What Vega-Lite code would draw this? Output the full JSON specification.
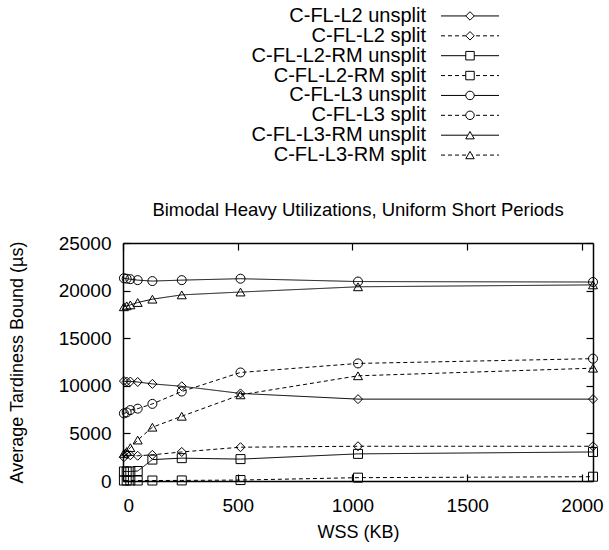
{
  "$schema": "https://vega.github.io/schema/vega-lite/v6.json",
  "padding": {"left": 8, "top": 5, "right": 5, "bottom": 5},
  "config": {
    "font": "Liberation Sans",
    "view": {"stroke": null},
    "concat": {"spacing": 34},
    "axis": {"labelColor": "black", "titleColor": "black", "tickColor": "black", "domainColor": "black", "grid": false, "labelFontSize": 19, "titleFontSize": 18, "titleFontWeight": "normal", "domainWidth": 1.5, "tickWidth": 1.2, "format": "d"}
  },
  "data": {"values": [
    {"series": "C-FL-L2 unsplit", "wss": 4, "bound": 10500},
    {"series": "C-FL-L2 unsplit", "wss": 16, "bound": 10450},
    {"series": "C-FL-L2 unsplit", "wss": 32, "bound": 10450},
    {"series": "C-FL-L2 unsplit", "wss": 64, "bound": 10400},
    {"series": "C-FL-L2 unsplit", "wss": 128, "bound": 10200},
    {"series": "C-FL-L2 unsplit", "wss": 256, "bound": 9950},
    {"series": "C-FL-L2 unsplit", "wss": 512, "bound": 9200},
    {"series": "C-FL-L2 unsplit", "wss": 1024, "bound": 8600},
    {"series": "C-FL-L2 unsplit", "wss": 2048, "bound": 8600},
    {"series": "C-FL-L2 split", "wss": 4, "bound": 2500},
    {"series": "C-FL-L2 split", "wss": 16, "bound": 2800},
    {"series": "C-FL-L2 split", "wss": 32, "bound": 2700},
    {"series": "C-FL-L2 split", "wss": 64, "bound": 2650},
    {"series": "C-FL-L2 split", "wss": 128, "bound": 2750},
    {"series": "C-FL-L2 split", "wss": 256, "bound": 3050},
    {"series": "C-FL-L2 split", "wss": 512, "bound": 3550},
    {"series": "C-FL-L2 split", "wss": 1024, "bound": 3650},
    {"series": "C-FL-L2 split", "wss": 2048, "bound": 3650},
    {"series": "C-FL-L2-RM unsplit", "wss": 4, "bound": 1000},
    {"series": "C-FL-L2-RM unsplit", "wss": 16, "bound": 1000},
    {"series": "C-FL-L2-RM unsplit", "wss": 32, "bound": 1000},
    {"series": "C-FL-L2-RM unsplit", "wss": 64, "bound": 1050},
    {"series": "C-FL-L2-RM unsplit", "wss": 128, "bound": 2250},
    {"series": "C-FL-L2-RM unsplit", "wss": 256, "bound": 2400},
    {"series": "C-FL-L2-RM unsplit", "wss": 512, "bound": 2300},
    {"series": "C-FL-L2-RM unsplit", "wss": 1024, "bound": 2850},
    {"series": "C-FL-L2-RM unsplit", "wss": 2048, "bound": 3050},
    {"series": "C-FL-L2-RM split", "wss": 4, "bound": 50},
    {"series": "C-FL-L2-RM split", "wss": 16, "bound": 50},
    {"series": "C-FL-L2-RM split", "wss": 32, "bound": 50},
    {"series": "C-FL-L2-RM split", "wss": 64, "bound": 50},
    {"series": "C-FL-L2-RM split", "wss": 128, "bound": 50},
    {"series": "C-FL-L2-RM split", "wss": 256, "bound": 60},
    {"series": "C-FL-L2-RM split", "wss": 512, "bound": 100},
    {"series": "C-FL-L2-RM split", "wss": 1024, "bound": 350},
    {"series": "C-FL-L2-RM split", "wss": 2048, "bound": 450},
    {"series": "C-FL-L3 unsplit", "wss": 4, "bound": 21300},
    {"series": "C-FL-L3 unsplit", "wss": 16, "bound": 21250},
    {"series": "C-FL-L3 unsplit", "wss": 32, "bound": 21200},
    {"series": "C-FL-L3 unsplit", "wss": 64, "bound": 21100},
    {"series": "C-FL-L3 unsplit", "wss": 128, "bound": 21000},
    {"series": "C-FL-L3 unsplit", "wss": 256, "bound": 21100},
    {"series": "C-FL-L3 unsplit", "wss": 512, "bound": 21250},
    {"series": "C-FL-L3 unsplit", "wss": 1024, "bound": 20950},
    {"series": "C-FL-L3 unsplit", "wss": 2048, "bound": 20900},
    {"series": "C-FL-L3 split", "wss": 4, "bound": 7100},
    {"series": "C-FL-L3 split", "wss": 16, "bound": 7200},
    {"series": "C-FL-L3 split", "wss": 32, "bound": 7450},
    {"series": "C-FL-L3 split", "wss": 64, "bound": 7600},
    {"series": "C-FL-L3 split", "wss": 128, "bound": 8100},
    {"series": "C-FL-L3 split", "wss": 256, "bound": 9400},
    {"series": "C-FL-L3 split", "wss": 512, "bound": 11400},
    {"series": "C-FL-L3 split", "wss": 1024, "bound": 12350},
    {"series": "C-FL-L3 split", "wss": 2048, "bound": 12850},
    {"series": "C-FL-L3-RM unsplit", "wss": 4, "bound": 18300},
    {"series": "C-FL-L3-RM unsplit", "wss": 16, "bound": 18400},
    {"series": "C-FL-L3-RM unsplit", "wss": 32, "bound": 18500},
    {"series": "C-FL-L3-RM unsplit", "wss": 64, "bound": 18750},
    {"series": "C-FL-L3-RM unsplit", "wss": 128, "bound": 19100},
    {"series": "C-FL-L3-RM unsplit", "wss": 256, "bound": 19550},
    {"series": "C-FL-L3-RM unsplit", "wss": 512, "bound": 19850},
    {"series": "C-FL-L3-RM unsplit", "wss": 1024, "bound": 20400},
    {"series": "C-FL-L3-RM unsplit", "wss": 2048, "bound": 20600},
    {"series": "C-FL-L3-RM split", "wss": 4, "bound": 2900},
    {"series": "C-FL-L3-RM split", "wss": 16, "bound": 3100},
    {"series": "C-FL-L3-RM split", "wss": 32, "bound": 3500},
    {"series": "C-FL-L3-RM split", "wss": 64, "bound": 4300},
    {"series": "C-FL-L3-RM split", "wss": 128, "bound": 5650},
    {"series": "C-FL-L3-RM split", "wss": 256, "bound": 6800},
    {"series": "C-FL-L3-RM split", "wss": 512, "bound": 9050},
    {"series": "C-FL-L3-RM split", "wss": 1024, "bound": 11050},
    {"series": "C-FL-L3-RM split", "wss": 2048, "bound": 11850}
  ]},
  "vconcat": [
    {
      "width": 470,
      "height": 159,
      "transform": [{"filter": "datum.wss == 2048"}],
      "encoding": {
        "y": {"field": "series", "type": "nominal", "axis": null,
          "sort": ["C-FL-L2 unsplit", "C-FL-L2 split", "C-FL-L2-RM unsplit", "C-FL-L2-RM split", "C-FL-L3 unsplit", "C-FL-L3 split", "C-FL-L3-RM unsplit", "C-FL-L3-RM split"],
          "scale": {"type": "point", "padding": 0.5}}
      },
      "layer": [
        {
          "mark": {"type": "rule", "color": "black", "strokeWidth": 1},
          "encoding": {
            "x": {"datum": 0.6766, "type": "quantitative", "scale": {"domain": [0, 1], "nice": false, "zero": false}, "axis": null},
            "x2": {"datum": 0.8},
            "strokeDash": {"field": "series", "type": "nominal", "legend": null,
              "scale": {"domain": ["C-FL-L2 unsplit", "C-FL-L2 split", "C-FL-L2-RM unsplit", "C-FL-L2-RM split", "C-FL-L3 unsplit", "C-FL-L3 split", "C-FL-L3-RM unsplit", "C-FL-L3-RM split"],
                "range": [[1, 0], [4, 3], [1, 0], [4, 3], [1, 0], [4, 3], [1, 0], [4, 3]]}}
          }
        },
        {
          "mark": {"type": "point", "filled": false, "color": "black", "fill": "white", "fillOpacity": 1, "strokeWidth": 1, "size": 72, "opacity": 1},
          "encoding": {
            "x": {"datum": 0.7383, "type": "quantitative"},
            "shape": {"field": "series", "type": "nominal", "legend": null,
              "scale": {"domain": ["C-FL-L2 unsplit", "C-FL-L2 split", "C-FL-L2-RM unsplit", "C-FL-L2-RM split", "C-FL-L3 unsplit", "C-FL-L3 split", "C-FL-L3-RM unsplit", "C-FL-L3-RM split"],
                "range": ["diamond", "diamond", "square", "square", "circle", "circle", "triangle-up", "triangle-up"]}}
          }
        },
        {
          "mark": {"type": "text", "align": "right", "baseline": "middle", "fontSize": 20, "color": "black"},
          "encoding": {
            "x": {"datum": 0.6447, "type": "quantitative"},
            "text": {"field": "series"}
          }
        }
      ]
    },
    {
      "width": 470,
      "height": 238,
      "title": {"text": "Bimodal Heavy Utilizations, Uniform Short Periods", "fontSize": 18.5, "fontWeight": "normal", "color": "black", "offset": 15},
      "layer": [
        {
          "mark": {"type": "line", "color": "black", "strokeWidth": 1},
          "encoding": {
            "x": {"field": "wss", "type": "quantitative", "scale": {"domain": [0, 2048], "nice": false},
              "axis": {"title": "WSS (KB)", "values": [0, 500, 1000, 1500, 2000], "tickSize": -7, "labelPadding": 22, "titlePadding": 8}},
            "y": {"field": "bound", "type": "quantitative", "scale": {"domain": [0, 25000], "nice": false},
              "axis": {"title": "Average Tardiness Bound (µs)", "values": [0, 5000, 10000, 15000, 20000, 25000], "tickSize": -7, "labelPadding": 19, "titlePadding": 32}},
            "strokeDash": {"field": "series", "type": "nominal", "legend": null,
              "scale": {"domain": ["C-FL-L2 unsplit", "C-FL-L2 split", "C-FL-L2-RM unsplit", "C-FL-L2-RM split", "C-FL-L3 unsplit", "C-FL-L3 split", "C-FL-L3-RM unsplit", "C-FL-L3-RM split"],
                "range": [[1, 0], [4, 3], [1, 0], [4, 3], [1, 0], [4, 3], [1, 0], [4, 3]]}}
          }
        },
        {
          "mark": {"type": "point", "filled": false, "color": "black", "strokeWidth": 1, "size": 81, "opacity": 1},
          "encoding": {
            "x": {"field": "wss", "type": "quantitative",
              "axis": {"orient": "top", "title": null, "labels": false, "values": [0, 500, 1000, 1500, 2000], "tickSize": -7}},
            "y": {"field": "bound", "type": "quantitative",
              "axis": {"orient": "right", "title": null, "labels": false, "values": [0, 5000, 10000, 15000, 20000, 25000], "tickSize": -7}},
            "shape": {"field": "series", "type": "nominal", "legend": null,
              "scale": {"domain": ["C-FL-L2 unsplit", "C-FL-L2 split", "C-FL-L2-RM unsplit", "C-FL-L2-RM split", "C-FL-L3 unsplit", "C-FL-L3 split", "C-FL-L3-RM unsplit", "C-FL-L3-RM split"],
                "range": ["diamond", "diamond", "square", "square", "circle", "circle", "triangle-up", "triangle-up"]}}
          }
        }
      ],
      "resolve": {"axis": {"x": "independent", "y": "independent"}}
    }
  ]
}
